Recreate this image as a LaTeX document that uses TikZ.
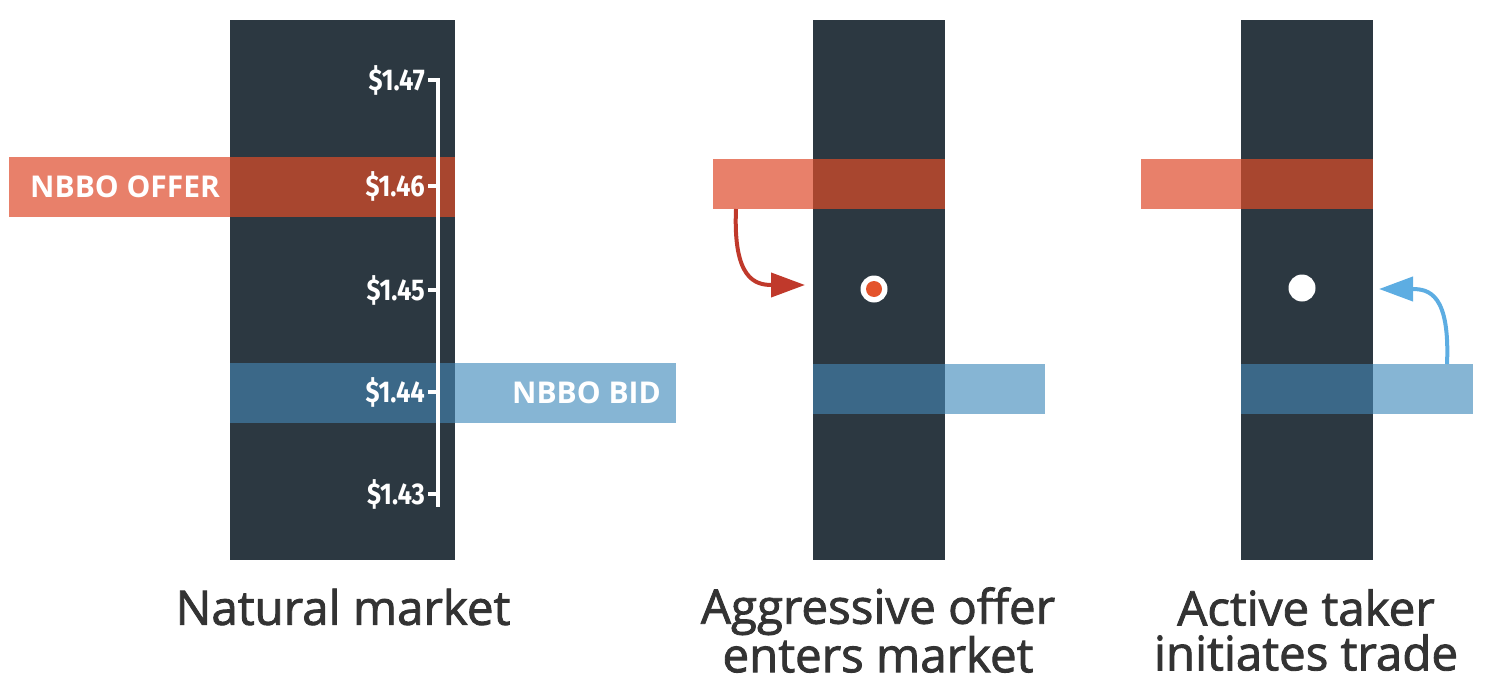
\documentclass[tikz,border=0pt]{standalone}
\usepackage{fontspec}
\setmainfont{Open Sans}
\newfontfamily\pricefont{Fira Sans}
\newfontfamily\captionfont[FakeBold=1.8]{Open Sans}
\usetikzlibrary{arrows.meta}
\definecolor{column}{HTML}{2C3841}
\definecolor{offerlight}{HTML}{E8806A}
\definecolor{offerdark}{HTML}{A8462F}
\definecolor{bidlight}{HTML}{86B5D4}
\definecolor{biddark}{HTML}{3B6888}
\definecolor{offerarrow}{HTML}{C0392B}
\definecolor{bidarrow}{HTML}{5DADE2}
\definecolor{dotorange}{HTML}{E4532B}
\definecolor{captiontext}{HTML}{333333}
\tikzset{
  colbar/.style={fill=column, minimum width=#1, minimum height=540pt, anchor=north west, inner sep=0pt, outer sep=0pt},
  band/.style={minimum height=#1, anchor=north west, inner sep=0pt, outer sep=0pt},
  bandlabel/.style={text=white, inner sep=0pt, font=\fontsize{30}{34}\selectfont\bfseries},
  price/.style={anchor=east, text=white, inner sep=0pt, font=\fontsize{30}{34}\selectfont\pricefont\bfseries},
  scaleline/.style={white, line width=3.5pt},
  caption/.style={text=captiontext, align=center, font=\fontsize{47.5}{45}\selectfont\captionfont},
  movearrow/.style={line width=4pt, -{Triangle[length=34pt,width=24pt]}}
}
\begin{document}
\begin{tikzpicture}[x=1pt, y=-1pt]
\useasboundingbox (0,0) rectangle (1495,690);
% natural market
\node[colbar=225pt] (col1) at (230,20) {};
\node[band=60pt, fill=offerlight, minimum width=446pt] (offer1) at (9,157) {};
\node[band=60pt, fill=offerdark, minimum width=225pt] (offerover1) at (230,157) {};
\node[band=60pt, fill=bidlight, minimum width=446pt] (bid1) at (230,363) {};
\node[band=60pt, fill=biddark, minimum width=225pt] (bidover1) at (230,363) {};
\node[bandlabel, anchor=west] (offertext) at (30,187) {NBBO OFFER};
\node[bandlabel, anchor=east] (bidtext) at (661,393) {NBBO BID};
\draw[scaleline] (438,79) -- (438,507);
\foreach \y/\p [count=\i] in {80/1.47,186/1.46,290/1.45,392/1.44,494/1.43}{
  \draw[scaleline] (428,\y) -- (439.5,\y);
  \node[price] (price\i) at (425,\y) {\scalebox{0.85}[1]{\$\p}};
}
\node[caption] (cap1) at (343,607) {Natural market};
% aggressive offer
\node[colbar=132pt] (col2) at (813,20) {};
\node[band=50pt, fill=offerlight, minimum width=232pt] (offer2) at (713,159) {};
\node[band=50pt, fill=offerdark, minimum width=132pt] (offerover2) at (813,159) {};
\node[band=50pt, fill=bidlight, minimum width=232pt] (bid2) at (813,364) {};
\node[band=50pt, fill=biddark, minimum width=132pt] (bidover2) at (813,364) {};
\node[circle, fill=white, minimum size=27pt, inner sep=0pt] (ring2) at (874,289) {};
\node[circle, fill=dotorange, minimum size=16pt, inner sep=0pt] (dot2) at (ring2) {};
\coordinate (start2) at (736,209);
\coordinate (tip2) at (805,285);
\draw[movearrow, offerarrow] (start2) .. controls +(-3,70) and +(-50,0) .. (tip2);
\node[caption] (cap2) at (878,630) {Aggressive offer\\enters market};
% active taker
\node[colbar=132pt] (col3) at (1241,20) {};
\node[band=50pt, fill=offerlight, minimum width=232pt] (offer3) at (1141,159) {};
\node[band=50pt, fill=offerdark, minimum width=132pt] (offerover3) at (1241,159) {};
\node[band=50pt, fill=bidlight, minimum width=232pt] (bid3) at (1241,364) {};
\node[band=50pt, fill=biddark, minimum width=132pt] (bidover3) at (1241,364) {};
\node[circle, fill=white, minimum size=27pt, inner sep=0pt] (dot3) at (1302,288) {};
\coordinate (start3) at (1447,364);
\coordinate (tip3) at (1379,289);
\draw[movearrow, bidarrow] (start3) .. controls +(3,-70) and +(50,0) .. (tip3);
\node[caption] (cap3) at (1306,630) {Active taker\\initiates trade};
\end{tikzpicture}
\end{document}
